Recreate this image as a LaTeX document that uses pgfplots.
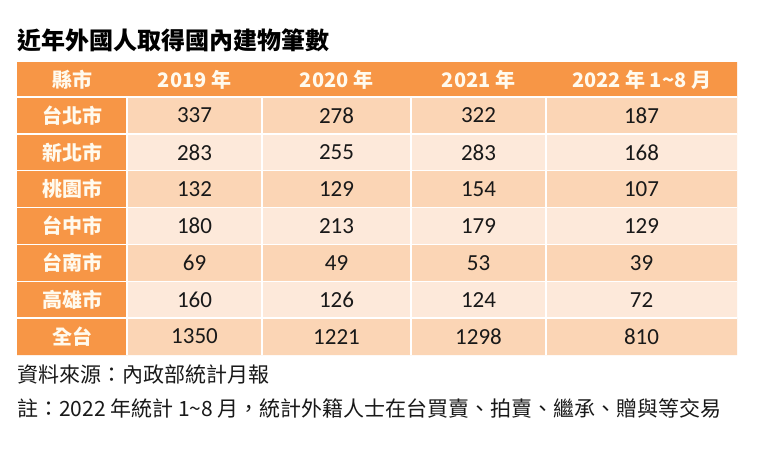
\documentclass[border=0pt]{standalone}
\usepackage{pgfplots}
\pgfplotsset{compat=1.18}
\usepackage{pgfplotstable}
\usepackage{fontspec}
\setmainfont{Noto Sans CJK TC}
\newfontfamily\numfont{Carlito}
\definecolor{hdr}{RGB}{247,150,70}
\definecolor{bandA}{RGB}{251,213,181}
\definecolor{bandB}{RGB}{253,233,218}
\definecolor{hdrtext}{RGB}{255,250,238}
\definecolor{bodytext}{RGB}{25,25,25}

\pgfplotstableread{
y label c1 c2 c3 c4
115.4 台北市 337 278 322 187
152.3 新北市 283 255 283 168
189.1 桃園市 132 129 154 107
226.0 台中市 180 213 179 129
262.9 台南市 69 49 53 39
299.7 高雄市 160 126 124 72
336.6 全台 1350 1221 1298 810
}\datatable

\newcommand{\rect}[5]{\addplot[fill=#5, draw=none, mark=none, forget plot] coordinates {(#1,#2) (#3,#2) (#3,#4) (#1,#4) (#1,#2)};}
\newcommand{\wline}[4]{\addplot[draw=white, line width=1.3pt, mark=none, forget plot] coordinates {(#1,#2) (#3,#4)};}

\begin{document}
\begin{tikzpicture}
\begin{axis}[
  scale only axis, width=760pt, height=456pt,
  xmin=0, xmax=760, ymin=0, ymax=456, y dir=reverse,
  hide axis, clip=false,
]
% background
\rect{0}{0}{760}{456}{white}
% header
\rect{17}{62}{737}{97}{hdr}
% bands
\rect{127}{97}{737}{133.86}{bandA}
\rect{127}{133.86}{737}{170.71}{bandB}
\rect{127}{170.71}{737}{207.57}{bandA}
\rect{127}{207.57}{737}{244.43}{bandB}
\rect{127}{244.43}{737}{281.29}{bandA}
\rect{127}{281.29}{737}{318.14}{bandB}
\rect{127}{318.14}{737}{355}{bandA}
% label column
\rect{17}{97}{127}{355}{hdr}
% grid lines
\wline{17}{97}{737}{97}
\wline{17}{133.86}{737}{133.86}
\wline{17}{170.71}{737}{170.71}
\wline{17}{207.57}{737}{207.57}
\wline{17}{244.43}{737}{244.43}
\wline{17}{281.29}{737}{281.29}
\wline{17}{318.14}{737}{318.14}
\wline{127}{97}{127}{355}
\wline{262}{97}{262}{355}
\wline{411}{97}{411}{355}
\wline{546}{97}{546}{355}

% header text
\node[font=\fontsize{20}{24}\selectfont\bfseries, text=hdrtext] at (axis cs:72,79.5) {縣市};
\node[font=\fontsize{20}{24}\selectfont\bfseries, text=hdrtext] at (axis cs:194.5,79.5) {2019 年};
\node[font=\fontsize{20}{24}\selectfont\bfseries, text=hdrtext] at (axis cs:336.5,79.5) {2020 年};
\node[font=\fontsize{20}{24}\selectfont\bfseries, text=hdrtext] at (axis cs:478.5,79.5) {2021 年};
\node[font=\fontsize{20}{24}\selectfont\bfseries, text=hdrtext] at (axis cs:641.5,79.5) {2022 年 1\textasciitilde 8 月};

% row labels
\addplot[draw=none, mark=none, forget plot, point meta=explicit symbolic,
  nodes near coords,
  every node near coord/.style={anchor=center, font=\fontsize{20}{24}\selectfont\bfseries, text=hdrtext}]
  table[x expr=72, y=y, meta=label] {\datatable};
% values
\pgfplotsset{valstyle/.style={draw=none, mark=none, forget plot, point meta=explicit symbolic,
  nodes near coords,
  every node near coord/.style={anchor=center, font=\numfont\fontsize{23}{27}\selectfont, text=bodytext}}}
\addplot[valstyle] table[x expr=194.5, y=y, meta=c1] {\datatable};
\addplot[valstyle] table[x expr=336.5, y=y, meta=c2] {\datatable};
\addplot[valstyle] table[x expr=478.5, y=y, meta=c3] {\datatable};
\addplot[valstyle] table[x expr=641.5, y=y, meta=c4] {\datatable};

% title and notes
\node[anchor=west, inner sep=0pt, font=\fontsize{24}{28}\selectfont\bfseries, text=black] at (axis cs:17,40) {近年外國人取得國內建物筆數};
\node[anchor=west, inner sep=0pt, font=\fontsize{21}{25}\selectfont, text=bodytext] at (axis cs:17,375) {資料來源：內政部統計月報};
\node[anchor=west, inner sep=0pt, font=\fontsize{21}{25}\selectfont, text=bodytext] at (axis cs:17,408) {註：2022 年統計 1\textasciitilde 8 月，統計外籍人士在台買賣、拍賣、繼承、贈與等交易};
\end{axis}
\end{tikzpicture}
\end{document}
